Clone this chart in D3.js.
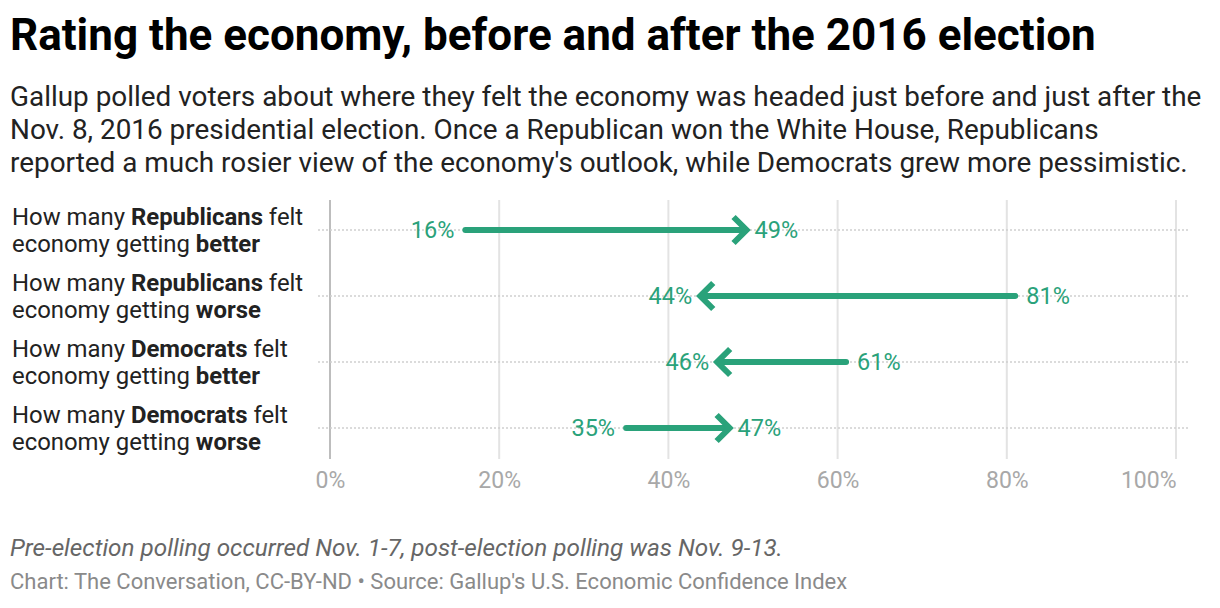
<!DOCTYPE html>
<html>
<head>
<meta charset="utf-8">
<script src="https://cdn.jsdelivr.net/npm/d3@7"></script>
<style>
  body { margin: 0; background: #fff; }
  text { font-family: Roboto, sans-serif; }
</style>
</head>
<body>
<script>
// data
var groups = ["Republicans", "Republicans", "Democrats", "Democrats"];
var directions = ["better", "worse", "better", "worse"];
var before = [16, 81, 61, 35];
var after = [49, 44, 46, 47];
var ticks = [0, 20, 40, 60, 80, 100];

var w = 1220, h = 608;
var green = "#2aa27a";

var svg = d3.select("body").append("svg").attr("width", w).attr("height", h);

svg.append("text").attr("x", 10).attr("y", 50)
  .attr("font-size", "44px").attr("font-weight", 700).attr("fill", "#000")
  .text("Rating the economy, before and after the 2016 election");

var sub = [
  "Gallup polled voters about where they felt the economy was headed just before and just after the",
  "Nov. 8, 2016 presidential election. Once a Republican won the White House, Republicans",
  "reported a much rosier view of the economy's outlook, while Democrats grew more pessimistic."
];
svg.append("g").selectAll("text").data(sub).join("text")
  .attr("x", 10).attr("y", function(d, i) { return 106 + i * 33; })
  .attr("font-size", "27.9px").attr("fill", "#222").text(function(d) { return d; });

var x = d3.scaleLinear().domain([0, 100]).range([330, 1176]);
var y = d3.scaleBand().domain(d3.range(4)).range([197, 461]);

// vertical grid
var grid = svg.append("g");
grid.selectAll("line").data(ticks).join("line")
  .attr("x1", function(d) { return x(d); }).attr("x2", function(d) { return x(d); })
  .attr("y1", 200).attr("y2", 459)
  .attr("stroke", function(d) { return d === 0 ? "#bdbdbd" : "#e3e3e3"; })
  .attr("stroke-width", 2);

// dotted row lines
svg.append("g").selectAll("line").data(d3.range(4)).join("line")
  .attr("x1", 318).attr("x2", 1190)
  .attr("y1", function(i) { return y(i) + y.bandwidth() / 2; })
  .attr("y2", function(i) { return y(i) + y.bandwidth() / 2; })
  .attr("stroke", "#cfcfcf").attr("stroke-width", 1.3).attr("stroke-dasharray", "2,2");

// axis labels
var axis = d3.axisBottom(x).tickValues(ticks).tickFormat(function(d) { return d + "%"; }).tickSize(0).tickPadding(0);
var ax = svg.append("g").attr("transform", "translate(0,472)").call(axis);
ax.select(".domain").remove();
ax.selectAll("text").attr("font-family", "Roboto, sans-serif").attr("font-size", "23px")
  .attr("fill", "#a8a8a8").attr("dy", "0.71em")
  .attr("text-anchor", function(d) { return d === 100 ? "end" : "middle"; });

// row labels
var rows = svg.append("g").selectAll("text").data(d3.range(4)).join("text")
  .attr("x", 12).attr("font-size", "23.9px").attr("fill", "#222");
rows.each(function(i) {
  var t = d3.select(this);
  var cy = y(i) + y.bandwidth() / 2;
  var l1 = t.append("tspan").attr("x", 12).attr("y", cy - 5);
  l1.append("tspan").text("How many ");
  l1.append("tspan").attr("font-weight", 700).text(groups[i]);
  l1.append("tspan").text(" felt");
  var l2 = t.append("tspan").attr("x", 12).attr("y", cy + 22);
  l2.append("tspan").text("economy getting ");
  l2.append("tspan").attr("font-weight", 700).text(directions[i]);
});

// arrows
var arrows = svg.append("g").selectAll("g").data(d3.range(4)).join("g");
arrows.each(function(i) {
  var g = d3.select(this);
  var cy = y(i) + y.bandwidth() / 2;
  var x0 = x(before[i]), x1 = x(after[i]);
  var dir = x1 > x0 ? 1 : -1;
  var tip = x1 + dir * 2;
  g.append("line").attr("x1", x0).attr("x2", tip - dir * 3).attr("y1", cy).attr("y2", cy)
    .attr("stroke", green).attr("stroke-width", 6).attr("stroke-linecap", "round");
  g.append("path")
    .attr("d", "M" + (tip - dir * 13) + "," + (cy - 13) + "L" + tip + "," + cy + "L" + (tip - dir * 13) + "," + (cy + 13))
    .attr("fill", "none").attr("stroke", green).attr("stroke-width", 6).attr("stroke-linejoin", "miter");
  g.append("text").attr("x", x0 - dir * 11).attr("y", cy).attr("dy", "0.35em")
    .attr("text-anchor", dir > 0 ? "end" : "start")
    .attr("font-size", "23.5px").attr("fill", green).text(before[i] + "%");
  g.append("text").attr("x", tip + dir * 8).attr("y", cy).attr("dy", "0.35em")
    .attr("text-anchor", dir > 0 ? "start" : "end")
    .attr("font-size", "23.5px").attr("fill", green).text(after[i] + "%");
});

svg.append("text").attr("x", 10).attr("y", 556)
  .attr("font-size", "24.3px").attr("font-style", "italic").attr("fill", "#666")
  .text("Pre-election polling occurred Nov. 1-7, post-election polling was Nov. 9-13.");

svg.append("text").attr("x", 10).attr("y", 589)
  .attr("font-size", "22px").attr("fill", "#8a8a8a")
  .text("Chart: The Conversation, CC-BY-ND \u2022 Source: Gallup's U.S. Economic Confidence Index");
</script>
</body>
</html>
